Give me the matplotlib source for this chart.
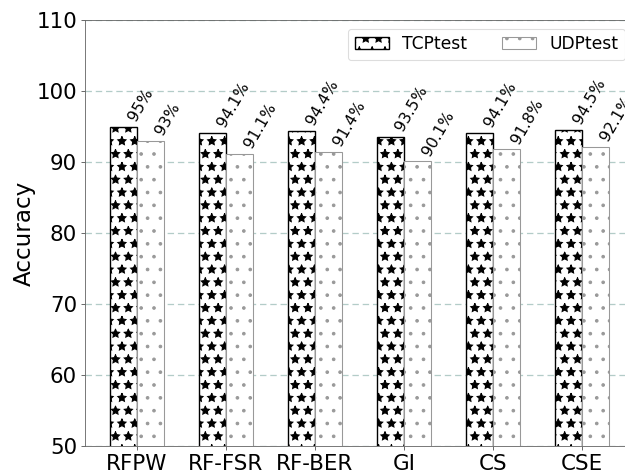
import numpy as np
import matplotlib
matplotlib.use("Agg")
import matplotlib.pyplot as plt

methods = ['RFPW', 'RF-FSR', 'RF-BER', 'GI', 'CS', 'CSE']
tcp_acc = [95, 94.1, 94.4, 93.5, 94.1, 94.5]
udp_acc = [93, 91.1, 91.4, 90.1, 91.8, 92.1]
tcp_labels = ['95%', '94.1%', '94.4%', '93.5%', '94.1%', '94.5%']
udp_labels = ['93%', '91.1%', '91.4%', '90.1%', '91.8%', '92.1%']

dpi = 77
fig = plt.figure(figsize=(625 / dpi, 473 / dpi), dpi=dpi)
ax = fig.add_axes([85 / 625, 27 / 473, 549 / 625, 426 / 473])

x = np.arange(len(methods))
w = 0.3
ax.bar(x - w / 2, tcp_acc, w, color='white', edgecolor='black',
       linewidth=1.3, hatch='*', label='TCPtest')
ax.bar(x + w / 2, udp_acc, w, color='white', edgecolor='#999999',
       linewidth=1.0, hatch='.', label='UDPtest')

# value labels, rotated
for xi, v, s in zip(x - w / 2, tcp_acc, tcp_labels):
    ax.annotate(s, (xi, v), xytext=(2, 3), textcoords='offset points',
                rotation=60, ha='left', va='bottom', fontsize=14.5)
for xi, v, s in zip(x + w / 2, udp_acc, udp_labels):
    ax.annotate(s, (xi, v), xytext=(2, 3), textcoords='offset points',
                rotation=60, ha='left', va='bottom', fontsize=14.5)

ax.set_ylim(50, 110)
ax.set_xlim(-0.584, 5.584)
ax.set_yticks(range(50, 111, 10))
ax.set_xticks(x)
ax.set_xticklabels(methods)
ax.tick_params(labelsize=20, colors='#555555', labelcolor='black', length=4)
ax.set_ylabel('Accuracy', fontsize=21.5, labelpad=0.5)

ax.set_axisbelow(True)
ax.yaxis.grid(True, linestyle=(0, (5, 3)), color='#b3ccc8', linewidth=1.2)
for sp in ax.spines.values():
    sp.set_color('#666666')

ax.legend(loc='upper right', ncol=2, fontsize=16, framealpha=1,
          edgecolor='#dddddd')

fig.savefig('out.png', dpi=dpi)
